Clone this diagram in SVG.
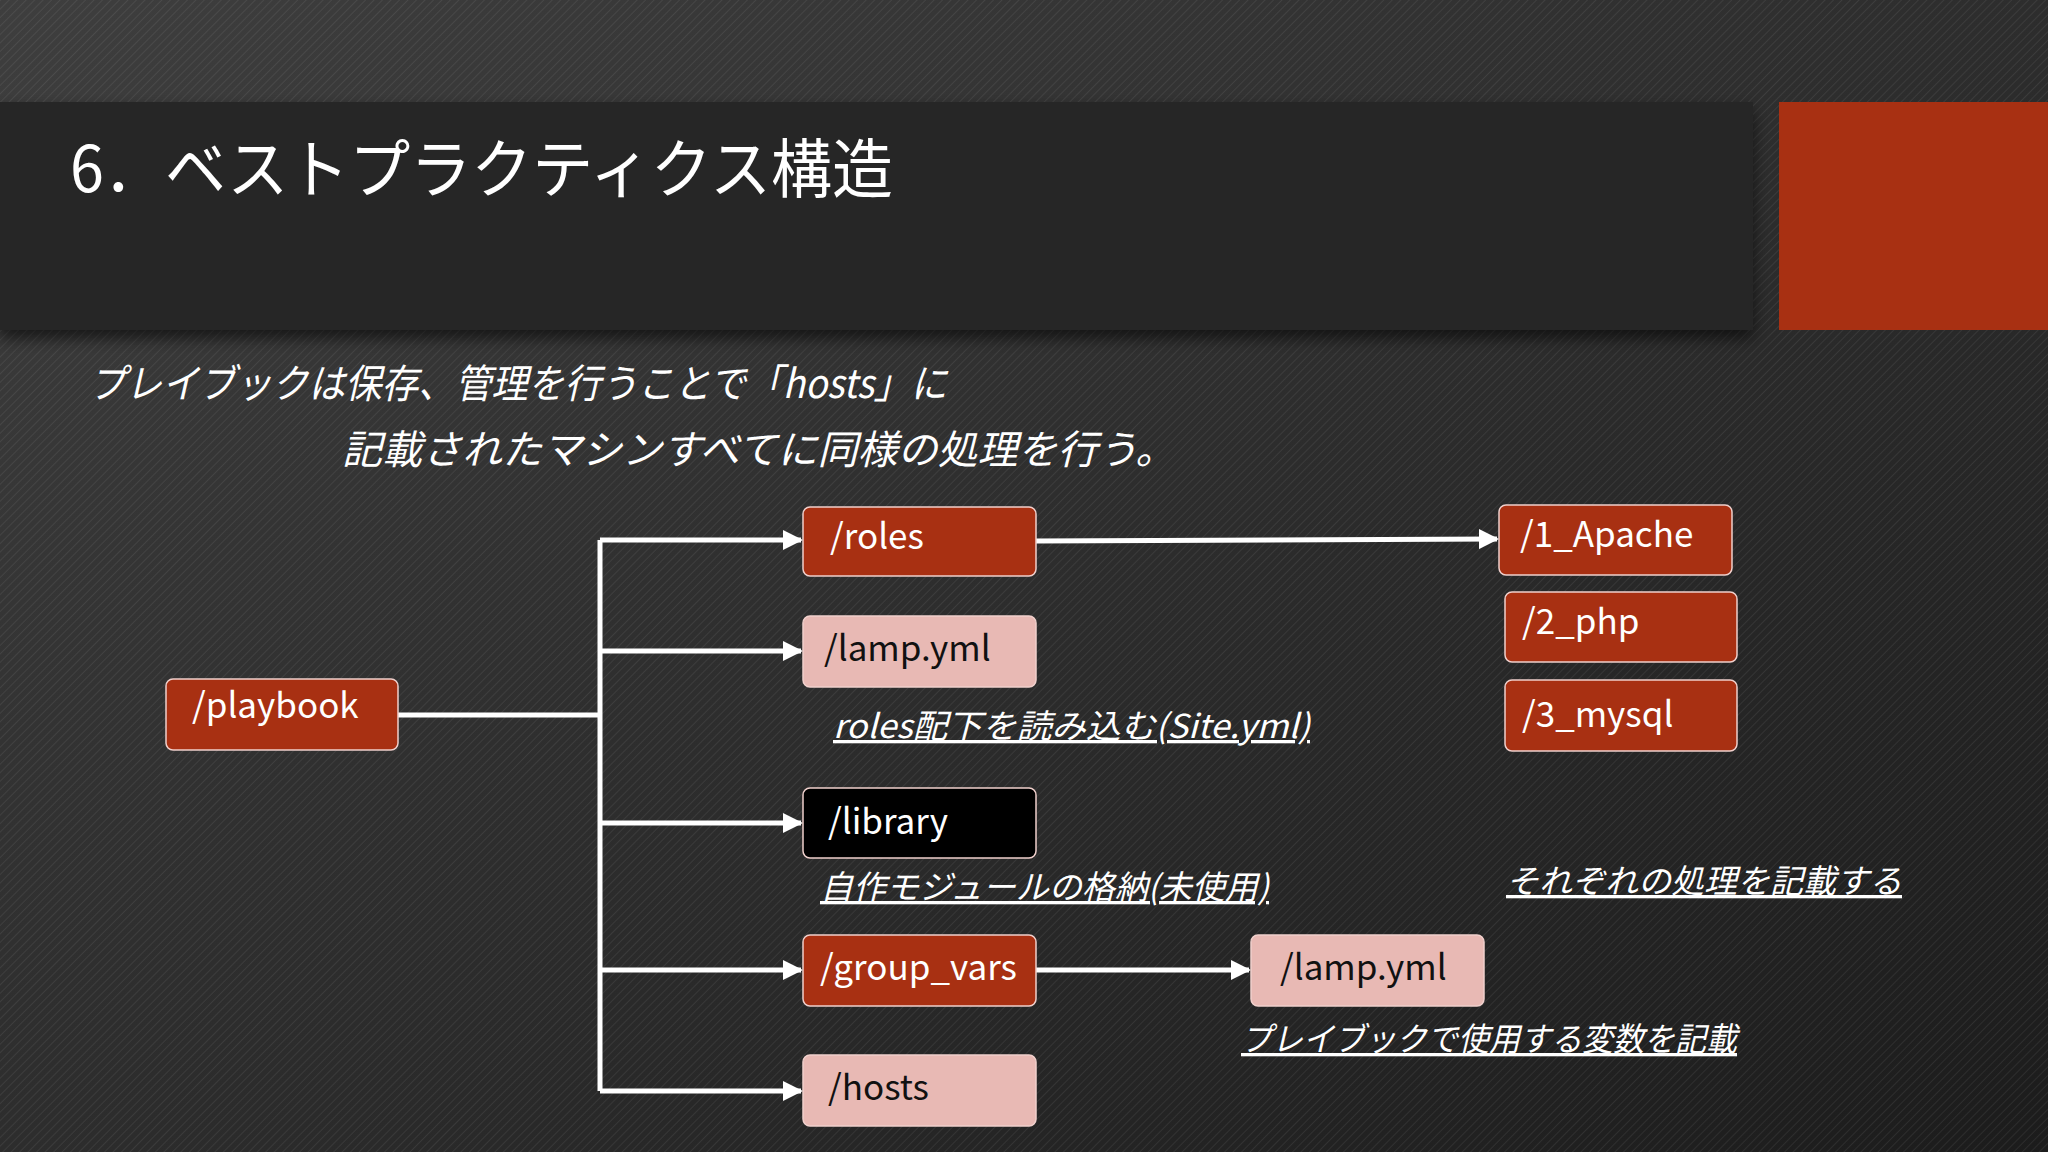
<svg xmlns="http://www.w3.org/2000/svg" width="2048" height="1152" viewBox="0 0 2048 1152">
<defs>
<linearGradient id="bg" x1="0" y1="0" x2="1" y2="1">
<stop offset="0" stop-color="#3e3e3e"/><stop offset="1" stop-color="#1c1c1c"/>
</linearGradient>
<pattern id="hatch" width="6" height="6" patternUnits="userSpaceOnUse" patternTransform="rotate(45)">
<line x1="0" y1="0" x2="0" y2="6" stroke="#ffffff" stroke-opacity="0.07" stroke-width="2"/>
</pattern>
<filter id="sh" x="-5%" y="-5%" width="110%" height="130%"><feDropShadow dx="0" dy="8" stdDeviation="8" flood-color="#000" flood-opacity="0.6"/></filter>
<marker id="arr" viewBox="0 0 10 10" refX="9" refY="5" markerWidth="4" markerHeight="4" orient="auto" markerUnits="strokeWidth">
<path d="M0,0 L10,5 L0,10 z" fill="#fff"/>
</marker>
<style>
.n{stroke:#f0d0cc;stroke-width:1.5}
.red{fill:#a83012}
.pink{fill:#e8b9b4}
.blk{fill:#000}
.t{font-family:"Noto Sans CJK JP","Noto Sans",sans-serif;font-size:35px;fill:#fff}
.td{fill:#111}
.lab{font-family:"Noto Sans CJK JP","Noto Sans",sans-serif;font-size:33px;fill:#fff;font-style:italic;text-decoration:underline}
.c{stroke:#fff;stroke-width:5;fill:none}
</style>
</defs>
<rect width="2048" height="1152" fill="url(#bg)"/>
<rect width="2048" height="1152" fill="url(#hatch)"/>
<rect x="0" y="102" width="1753" height="228" fill="#262626" filter="url(#sh)"/>
<rect x="1779" y="102" width="269" height="228" fill="#a83012"/>
<text x="70" y="192" font-family="Noto Sans CJK JP,sans-serif" font-size="64" fill="#fff" textLength="823" lengthAdjust="spacingAndGlyphs">6．ベストプラクティクス構造</text>
<text x="89" y="398" class="lab" style="text-decoration:none;font-size:40px" textLength="858" lengthAdjust="spacingAndGlyphs">プレイブックは保存、管理を行うことで「hosts」に</text>
<text x="342" y="464" class="lab" style="text-decoration:none;font-size:40px">記載されたマシンすべてに同様の処理を行う。</text>
<g id="connectors">
<polyline class="c" points="398,715 600,715"/>
<polyline class="c" points="600,540 600,1091"/>
<line class="c" x1="600" y1="540" x2="801" y2="540" marker-end="url(#arr)"/>
<line class="c" x1="600" y1="651" x2="801" y2="651" marker-end="url(#arr)"/>
<line class="c" x1="600" y1="823" x2="801" y2="823" marker-end="url(#arr)"/>
<line class="c" x1="600" y1="970" x2="801" y2="970" marker-end="url(#arr)"/>
<line class="c" x1="600" y1="1091" x2="801" y2="1091" marker-end="url(#arr)"/>
<line class="c" x1="1036" y1="541" x2="1497" y2="539" marker-end="url(#arr)"/>
<line class="c" x1="1036" y1="970" x2="1249" y2="970" marker-end="url(#arr)"/>
</g>
<g id="playbook"><rect class="n red" x="166" y="679" width="232" height="71" rx="7"/><text class="t" x="192" y="718">/playbook</text></g>
<g id="roles"><rect class="n red" x="803" y="507" width="233" height="69" rx="7"/><text class="t" x="830" y="549">/roles</text></g>
<g id="lampyml"><rect class="n pink" x="803" y="616" width="233" height="71" rx="7"/><text class="t td" x="824" y="661">/lamp.yml</text></g>
<g id="library"><rect class="n blk" x="803" y="788" width="233" height="70" rx="7"/><text class="t" x="828" y="834">/library</text></g>
<g id="group_vars"><rect class="n red" x="803" y="935" width="233" height="71" rx="7"/><text class="t" x="820" y="980">/group_vars</text></g>
<g id="hosts"><rect class="n pink" x="803" y="1055" width="233" height="71" rx="7"/><text class="t td" x="828" y="1100">/hosts</text></g>
<g id="apache"><rect class="n red" x="1499" y="505" width="233" height="70" rx="7"/><text class="t" x="1520" y="547">/1_Apache</text></g>
<g id="php"><rect class="n red" x="1505" y="592" width="232" height="70" rx="7"/><text class="t" x="1522" y="634">/2_php</text></g>
<g id="mysql"><rect class="n red" x="1505" y="680" width="232" height="71" rx="7"/><text class="t" x="1522" y="727">/3_mysql</text></g>
<g id="lampyml2"><rect class="n pink" x="1251" y="935" width="233" height="71" rx="7"/><text class="t td" x="1280" y="980">/lamp.yml</text></g>
<text class="lab" x="833" y="738" textLength="477" lengthAdjust="spacingAndGlyphs">roles配下を読み込む(Site.yml)</text>
<text class="lab" x="820" y="899">自作モジュールの格納(未使用)</text>
<text class="lab" x="1506" y="893">それぞれの処理を記載する</text>
<text class="lab" x="1241" y="1051" textLength="496" lengthAdjust="spacingAndGlyphs">プレイブックで使用する変数を記載</text>
</svg>
